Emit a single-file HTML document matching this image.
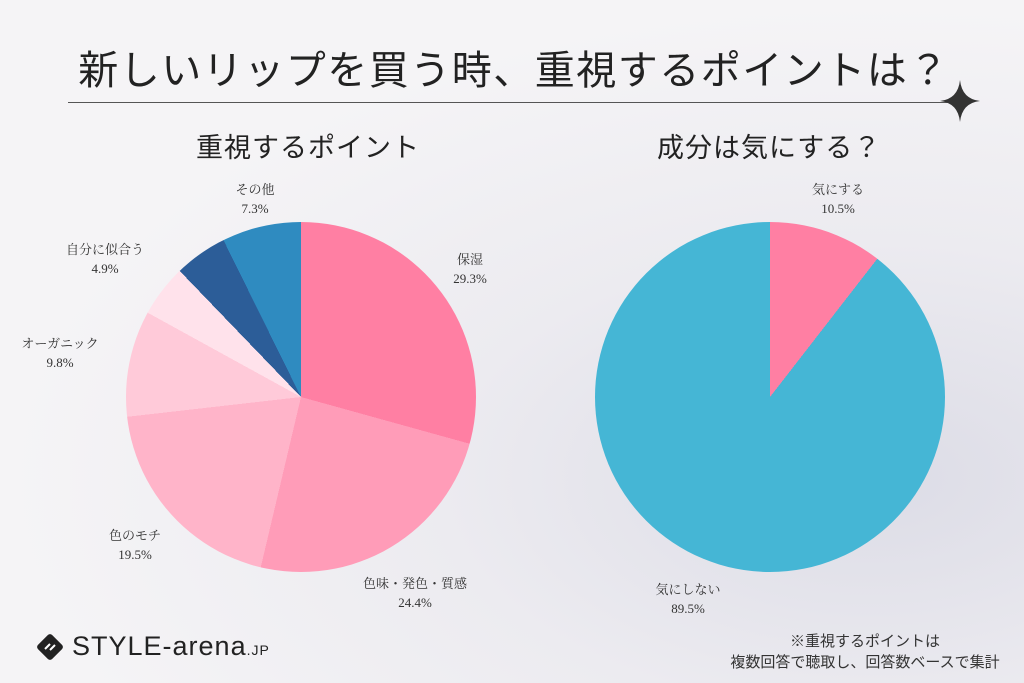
<!DOCTYPE html>
<html><head><meta charset="utf-8"><style>
body{margin:0;width:1024px;height:683px;overflow:hidden;position:relative;
background:radial-gradient(ellipse at 85% 70%,#dcdce6 0%,#ecebf0 35%,#f5f4f6 70%),#f4f3f5;
font-family:"Liberation Serif","Noto Serif CJK SC","Noto Sans CJK JP",serif;color:#222}
.a{position:absolute;white-space:nowrap}
.pie{position:absolute;border-radius:50%}
.l{position:absolute;font-size:13px;text-align:center;line-height:19px;color:#333}
</style></head><body>
<div class="a" style="left:4px;width:1020px;top:38px;text-align:center;font-size:40px;letter-spacing:1.5px;font-family:'Noto Sans CJK JP',sans-serif;">新しいリップを買う時、重視するポイントは？</div>
<div class="a" style="left:68px;top:102px;width:880px;height:1px;background:#555"></div>
<svg class="a" style="left:940px;top:80px" width="40" height="42"><path d="M20 0 Q22 19 40 21 Q22 23 20 42 Q18 23 0 21 Q18 19 20 0Z" fill="#333"/></svg>
<div class="a" style="left:196px;top:126px;font-size:27px;letter-spacing:1px;font-family:'Noto Sans CJK JP',sans-serif">重視するポイント</div>
<div class="a" style="left:657px;top:126px;font-size:27px;letter-spacing:1px;font-family:'Noto Sans CJK JP',sans-serif">成分は気にする？</div>
<div class="pie" style="left:126px;top:222px;width:350px;height:350px;background:conic-gradient(#ff7fa3 0 105.5deg,#ff9cb8 105.5deg 193.3deg,#ffb4c9 193.3deg 263.5deg,#ffcad9 263.5deg 298.8deg,#ffe2eb 298.8deg 316.1deg,#2c5d98 316.1deg 333.7deg,#2f8bc0 333.7deg 360deg)"></div>
<div class="pie" style="left:595px;top:222px;width:350px;height:350px;background:conic-gradient(#ff7fa3 0 37.8deg,#45b6d5 37.8deg 360deg)"></div>
<div class="l" style="left:230px;top:180px;width:50px">その他<br>7.3%</div>
<div class="l" style="left:55px;top:240px;width:100px">自分に似合う<br>4.9%</div>
<div class="l" style="left:5px;top:334px;width:110px">オーガニック<br>9.8%</div>
<div class="l" style="left:95px;top:526px;width:80px">色のモチ<br>19.5%</div>
<div class="l" style="left:340px;top:574px;width:150px">色味・発色・質感<br>24.4%</div>
<div class="l" style="left:440px;top:250px;width:60px">保湿<br>29.3%</div>
<div class="l" style="left:798px;top:180px;width:80px">気にする<br>10.5%</div>
<div class="l" style="left:648px;top:580px;width:80px">気にしない<br>89.5%</div>
<svg class="a" style="left:36px;top:633px" width="28" height="28"><rect x="4" y="4" width="20" height="20" rx="3" transform="rotate(45 14 14)" fill="#222"/><path d="M9 16 L14 11 M14 17 L19 12" stroke="#fff" stroke-width="2"/></svg>
<div class="a" style="left:72px;top:631px;font-size:27px;font-family:'Liberation Sans',sans-serif;letter-spacing:1px;color:#222">STYLE-arena<span style="font-size:14px">.JP</span></div>
<div class="a" style="left:710px;top:630px;width:310px;text-align:center;font-size:15px;line-height:21px;font-family:'Noto Sans CJK JP',sans-serif;color:#333">※重視するポイントは<br>複数回答で聴取し、回答数ベースで集計</div>
</body></html>
